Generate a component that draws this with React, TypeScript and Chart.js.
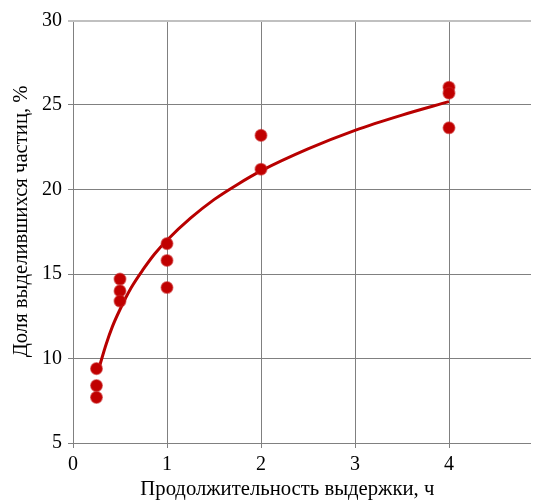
import React, { useEffect, useRef } from "react";
import { Chart, registerables } from "chart.js";

Chart.register(...registerables);

// Measured points: holding time (h) vs share of separated particles (%)
const durationsH = [0.25, 0.25, 0.25, 0.5, 0.5, 0.5, 1, 1, 1, 2, 2, 4, 4, 4];
const particleShare = [9.4, 8.4, 7.7, 14.7, 14.0, 13.4, 16.8, 15.8, 14.2, 23.2, 21.2, 26.05, 25.7, 23.65];

// Trend curve
const trendX = [0.28, 0.35, 0.42, 0.5, 0.62, 0.75, 0.87, 1, 1.25, 1.5, 1.75, 2, 2.5, 3, 3.5, 4];
const trendY = [9.5, 10.8, 11.9, 12.9, 14.2, 15.3, 16.2, 17.0, 18.3, 19.4, 20.3, 21.1, 22.4, 23.5, 24.4, 25.2];

const xTicks = [0, 1, 2, 3, 4, 5];
const yTicks = [5, 10, 15, 20, 25, 30];

const xTitle = "Продолжительность выдержки, ч";
const yTitle = "Доля выделившихся частиц, %";

const RED = "#c00000";
const FONT = "'Liberation Serif', 'Times New Roman', serif";

export default function App() {
  const ref = useRef<HTMLCanvasElement | null>(null);

  useEffect(() => {
    const canvas = ref.current;
    if (!canvas) return;
    const chart = new Chart(canvas, {
      type: "scatter",
      data: {
        datasets: [
          {
            label: "points",
            data: durationsH.map((x, i) => ({ x, y: particleShare[i] })),
            backgroundColor: RED,
            borderColor: "rgba(200,30,30,0.55)",
            borderWidth: 1.5,
            pointRadius: 5.8,
            showLine: false,
          },
          {
            label: "trend",
            data: trendX.map((x, i) => ({ x, y: trendY[i] })),
            showLine: true,
            borderColor: "#b80000",
            borderWidth: 3,
            pointRadius: 0,
            cubicInterpolationMode: "monotone",
            fill: false,
          },
        ],
      },
      options: {
        animation: false,
        responsive: false,
        maintainAspectRatio: false,
        devicePixelRatio: 1,
        layout: { padding: { top: 12.5, right: 25, left: 0, bottom: 0 } },
        plugins: { legend: { display: false }, tooltip: { enabled: false } },
        scales: {
          x: {
            type: "linear",
            min: xTicks[0],
            max: xTicks[xTicks.length - 1],
            afterBuildTicks: (s: any) => {
              s.ticks = xTicks.map((v) => ({ value: v }));
            },
            afterFit: (s: any) => {
              s.height = 60;
              s.paddingLeft = 0;
              s.paddingRight = 0;
            },
            border: { display: false },
            grid: { color: "#808080", lineWidth: 1, tickLength: 5, drawTicks: true },
            ticks: { color: "#000", font: { family: FONT, size: 20 }, padding: 5, maxRotation: 0, autoSkip: false },
            title: {
              display: true,
              text: xTitle + "\u00A0".repeat(8),
              color: "#000",
              font: { family: FONT, size: 20.7 },
              padding: { top: 0, bottom: 1 },
            },
          },
          y: {
            type: "linear",
            min: yTicks[0],
            max: yTicks[yTicks.length - 1],
            afterBuildTicks: (s: any) => {
              s.ticks = yTicks.map((v) => ({ value: v }));
            },
            afterFit: (s: any) => {
              s.width = 65;
              s.paddingTop = 0;
              s.paddingBottom = 0;
            },
            border: { display: false },
            grid: {
              color: (c: any) => (c.tick && c.tick.value === 30 ? "#c0c0c0" : "#808080"),
              lineWidth: (c: any) => (c.tick && c.tick.value === 30 ? 2 : 1),
              tickLength: 5,
              drawTicks: true,
            },
            ticks: { color: "#000", font: { family: FONT, size: 20 }, padding: 6 },
            title: {
              display: true,
              text: "\u00A0".repeat(4) + yTitle,
              color: "#000",
              font: { family: FONT, size: 20.7 },
              padding: { top: 1, bottom: 0 },
            },
          },
        },
      },
    });
    return () => chart.destroy();
  }, []);

  return (
    <div style={{ width: 531, height: 495, overflow: "hidden" }}>
      <canvas ref={ref} width={560} height={495} style={{ display: "block", width: 560, height: 495 }} />
    </div>
  );
}
